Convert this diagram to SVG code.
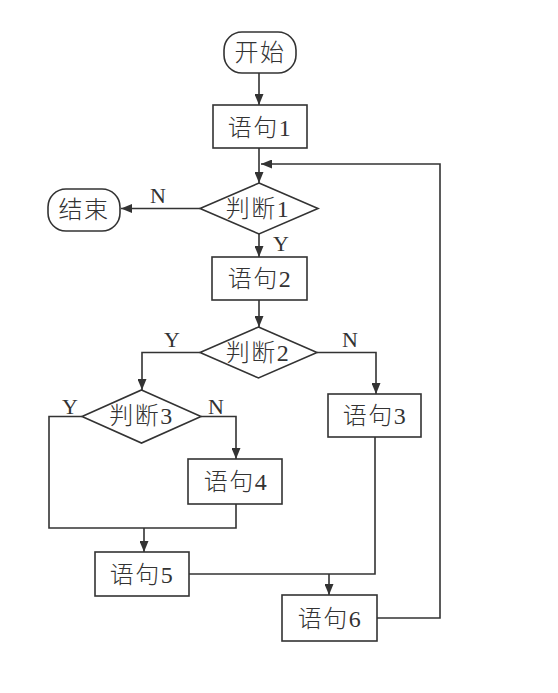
<svg xmlns="http://www.w3.org/2000/svg" width="558" height="693" viewBox="0 0 558 693">
<style>
.box{fill:#fff;stroke:#333;stroke-width:1.6}
.ln{fill:none;stroke:#333;stroke-width:1.6}
.t{font-family:"Liberation Serif","Noto Sans CJK SC",serif;font-size:24px;font-weight:300;fill:#333;text-anchor:middle;dominant-baseline:central;letter-spacing:1.5px}
.lb{font-family:"Liberation Serif",serif;font-size:22px;fill:#333;text-anchor:middle}
</style>
<defs>
<marker id="ah" markerUnits="userSpaceOnUse" markerWidth="11" markerHeight="9" refX="11" refY="4.5" orient="auto">
<path d="M0,0 L11,4.5 L0,9 z" fill="#333"/>
</marker>
</defs>
<rect width="558" height="693" fill="#fff"/>
<g id="connectors">
<path class="ln" d="M259,73 V105" marker-end="url(#ah)"/>
<path class="ln" d="M259,148 V183" marker-end="url(#ah)"/>
<path class="ln" d="M377,618 H440 V164 H261" marker-end="url(#ah)"/>
<path class="ln" d="M200,208.5 H121" marker-end="url(#ah)"/>
<path class="ln" d="M259,234 V257" marker-end="url(#ah)"/>
<path class="ln" d="M259,300 V327" marker-end="url(#ah)"/>
<path class="ln" d="M200,352.5 H142 V390" marker-end="url(#ah)"/>
<path class="ln" d="M317,352.5 H376 V394" marker-end="url(#ah)"/>
<path class="ln" d="M201,416.5 H236 V459" marker-end="url(#ah)"/>
<path class="ln" d="M82,416.5 H49 V528 H236 V504"/>
<path class="ln" d="M144,528 V552" marker-end="url(#ah)"/>
<path class="ln" d="M375,437 V574 H189"/>
<path class="ln" d="M329,574 V595" marker-end="url(#ah)"/>
<text class="lb" x="158" y="203">N</text>
<text class="lb" x="281" y="251">Y</text>
<text class="lb" x="172" y="347">Y</text>
<text class="lb" x="350" y="347">N</text>
<text class="lb" x="70" y="414">Y</text>
<text class="lb" x="216" y="414">N</text>
</g>
<g id="start"><rect class="box" x="224" y="32" width="72" height="41" rx="18"/><text class="t" x="260" y="53">开始</text></g>
<g id="s1"><rect class="box" x="213" y="105" width="94" height="43"/><text class="t" x="260" y="127.5">语句1</text></g>
<g id="d1"><polygon class="box" points="259,183 318,208.5 259,234 200,208.5"/><text class="t" x="258" y="209">判断1</text></g>
<g id="end"><rect class="box" x="48" y="189" width="72" height="42" rx="18"/><text class="t" x="84" y="210">结束</text></g>
<g id="s2"><rect class="box" x="212" y="257" width="95" height="43"/><text class="t" x="260" y="279">语句2</text></g>
<g id="d2"><polygon class="box" points="258.5,327 317,352.5 258.5,378 200,352.5"/><text class="t" x="258" y="352.5">判断2</text></g>
<g id="d3"><polygon class="box" points="141.5,390 201,416.5 141.5,443 82,416.5"/><text class="t" x="141.5" y="416">判断3</text></g>
<g id="s3"><rect class="box" x="328" y="394" width="93" height="43"/><text class="t" x="375" y="416">语句3</text></g>
<g id="s4"><rect class="box" x="188" y="459" width="94" height="45"/><text class="t" x="236" y="482">语句4</text></g>
<g id="s5"><rect class="box" x="95" y="552" width="94" height="44"/><text class="t" x="142" y="574.5">语句5</text></g>
<g id="s6"><rect class="box" x="282" y="595" width="95" height="46"/><text class="t" x="330" y="618.5">语句6</text></g>
</svg>
